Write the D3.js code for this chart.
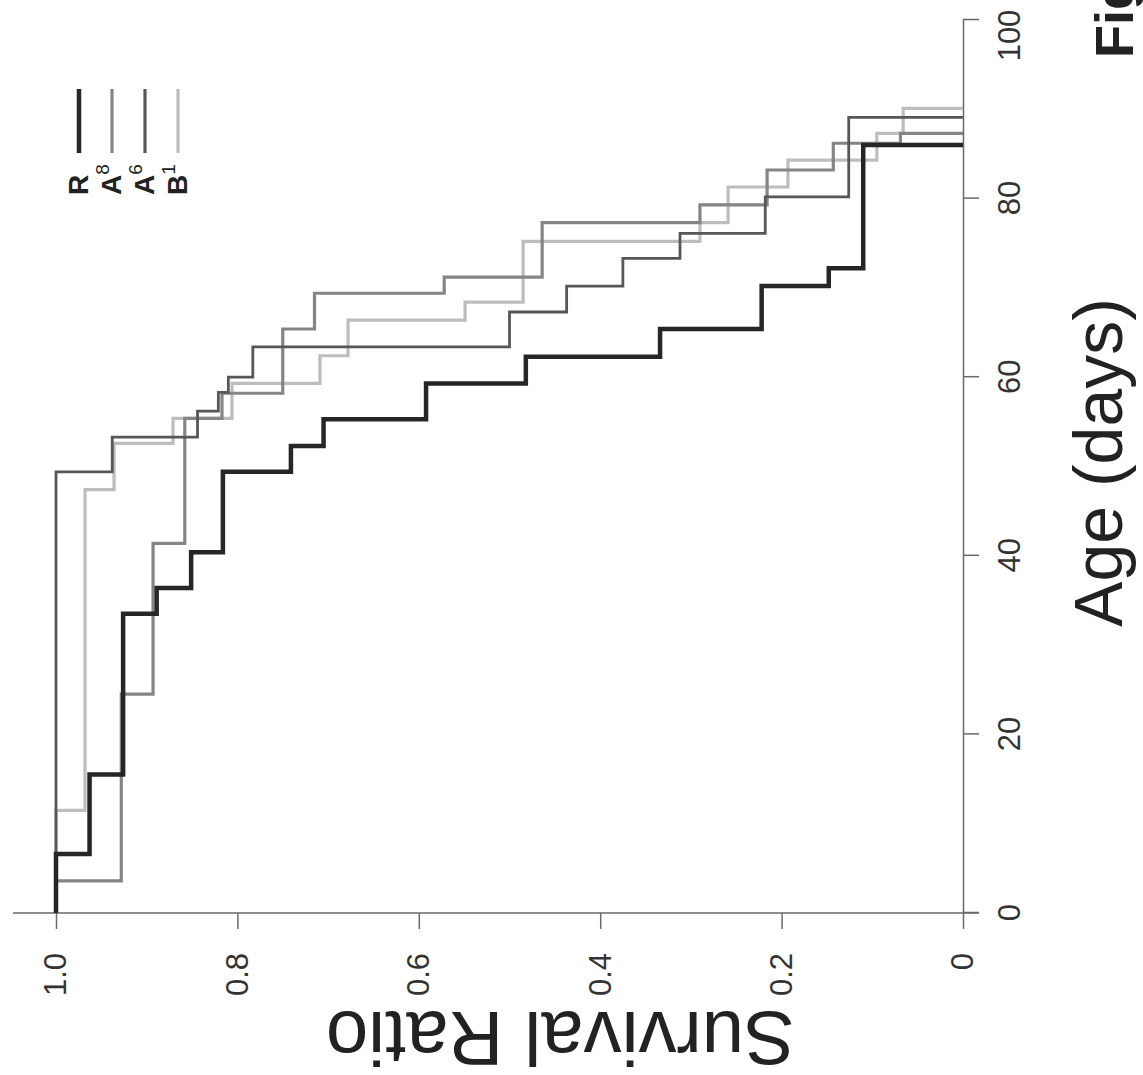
<!DOCTYPE html>
<html>
<head>
<meta charset="utf-8">
<script src="https://cdn.jsdelivr.net/npm/d3@7"></script>
<style>
  body { margin: 0; background: #fff; }
  svg { display: block; font-family: "Liberation Sans", Arial, Helvetica, sans-serif; }
</style>
</head>
<body>
<div id="chart"></div>
<script>
// survival curves (age in days, ratio after each death)
var groups = ["R", "A8", "A6", "B1"];
var supers = ["", "8", "6", "1"];

var rAge  = [6.6, 15.5, 33.5, 36.4, 40.4, 49.4, 52.3, 55.3, 59.3, 62.3, 65.4, 70.2, 72.2, 86.0];
var rSurv = [0.963, 0.926, 0.889, 0.851, 0.816, 0.741, 0.705, 0.592, 0.482, 0.334, 0.222, 0.148, 0.110, 0];

var a8Age  = [3.6, 24.5, 41.4, 55.4, 58.2, 65.4, 69.4, 71.2, 77.3, 79.3, 83.2, 86.2, 87.3];
var a8Surv = [0.928, 0.893, 0.858, 0.817, 0.75, 0.715, 0.572, 0.464, 0.29, 0.216, 0.143, 0.069, 0];

var a6Age  = [49.4, 53.3, 56.2, 58.3, 60.0, 63.4, 67.3, 70.2, 73.3, 76.1, 80.2, 89.1];
var a6Surv = [0.938, 0.844, 0.821, 0.81, 0.783, 0.50, 0.437, 0.375, 0.312, 0.218, 0.126, 0];

var b1Age  = [11.5, 47.4, 52.6, 55.4, 59.3, 62.4, 66.4, 68.4, 75.2, 77.3, 81.3, 84.3, 87.3, 90.1];
var b1Surv = [0.968, 0.936, 0.871, 0.806, 0.709, 0.678, 0.549, 0.485, 0.29, 0.259, 0.193, 0.095, 0.066, 0];

var ageTicks = [0, 20, 40, 60, 80, 100];
var ratioTicks = [0, 0.2, 0.4, 0.6, 0.8, 1.0];
var ratioLabels = ["0", "0.2", "0.4", "0.6", "0.8", "1.0"];

var ages = [rAge, a8Age, a6Age, b1Age];
var survs = [rSurv, a8Surv, a6Surv, b1Surv];
var colors = ["#262626", "#858585", "#575757", "#bdbdbd"];
var widths = [4.5, 3.2, 2.8, 3.2];

var width = 1143, height = 1075;
var W = 893, H = 907;   // age length, ratio length (before turning)

var svg = d3.select("#chart").append("svg")
    .attr("width", width)
    .attr("height", height);

// the whole plot is drawn the normal way and then turned a quarter left
var g = svg.append("g")
    .attr("transform", "translate(56,913) rotate(-90)");

var x = d3.scaleLinear().domain([0, 100]).range([0, W]);
var y = d3.scaleLinear().domain([0, 1]).range([H, 0]);

var axisCol = "#6a6a6a";

// age axis
var ax = g.append("g")
    .attr("transform", "translate(0," + H + ")")
    .call(d3.axisBottom(x).tickValues(ageTicks).tickSize(16).tickSizeOuter(0).tickPadding(19));
// the top label sits a bit lower, clear of the page edge
ax.selectAll(".tick text").filter(function(d) { return d == 100; }).attr("dx", -16);

// ratio axis
var ay = g.append("g")
    .call(d3.axisLeft(y).tickValues(ratioTicks).tickSize(16).tickSizeOuter(0).tickPadding(24)
      .tickFormat(function(d, i) { return ratioLabels[i]; }));
ay.select(".domain").remove();
ay.append("line")
    .attr("x1", 0).attr("x2", 0)
    .attr("y1", -43).attr("y2", H + 16);

g.selectAll(".domain, .tick line, line")
    .attr("stroke", axisCol)
    .attr("stroke-width", 1.5);
g.selectAll(".tick text")
    .attr("fill", "#333")
    .style("font-size", "31px")
    .style("font-family", "Liberation Sans, Arial, sans-serif");

// step curves
var line = d3.line()
    .x(function(d) { return x(d[0]); })
    .y(function(d) { return y(d[1]); })
    .curve(d3.curveStepAfter);

var curves = groups.map(function(name, i) {
  var pts = [[0, 1]];
  ages[i].forEach(function(a, j) { pts.push([a, survs[i][j]]); });
  return {name: name, pts: pts, i: i};
});

// draw light ones first so the dark ones sit on top
[3, 1, 2, 0].forEach(function(k) {
  var c = curves[k];
  g.append("path")
      .datum(c.pts)
      .attr("d", line)
      .attr("fill", "none")
      .attr("stroke", colors[k])
      .attr("stroke-width", widths[k])
      .attr("stroke-linejoin", "miter");
});

// legend
var leg = g.append("g").attr("class", "legend");
groups.forEach(function(name, i) {
  var ly = 23 + i * 33;
  leg.append("line")
      .attr("x1", 760).attr("x2", 824)
      .attr("y1", ly).attr("y2", ly)
      .attr("stroke", colors[i])
      .attr("stroke-width", i == 0 ? 4.5 : 3.2);
  var t = leg.append("text")
      .attr("x", 718)
      .attr("y", ly + 9)
      .attr("fill", "#222")
      .style("font-size", "28px")
      .style("font-weight", "bold")
      .text(name.charAt(0));
  if (supers[i]) {
    t.append("tspan")
        .attr("dy", -12)
        .style("font-size", "19px")
        .style("font-weight", "normal")
        .text(supers[i]);
  }
});

// axis titles
g.append("text")
    .attr("x", x(50) + 4)
    .attr("y", 1066)
    .attr("text-anchor", "middle")
    .attr("fill", "#222")
    .style("font-size", "68px")
    .text("Age (days)");

g.append("text")
    .attr("transform", "translate(-99," + (H * 0.556) + ") rotate(-90)")
    .attr("text-anchor", "middle")
    .attr("fill", "#222")
    .style("font-size", "76px")
    .text("Survival Ratio");

// figure caption, cut by the page edge
svg.append("text")
    .attr("transform", "translate(1133,58) rotate(-90)")
    .attr("fill", "#222")
    .style("font-size", "54px")
    .style("font-weight", "bold")
    .text("Fig");
</script>
</body>
</html>
